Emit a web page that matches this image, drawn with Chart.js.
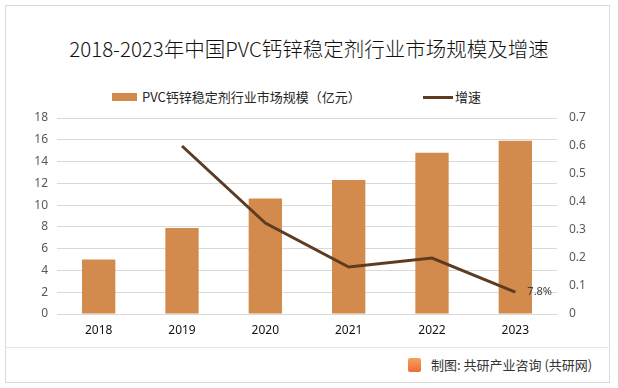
<!DOCTYPE html>
<html>
<head>
<meta charset="utf-8">
<script src="https://cdn.jsdelivr.net/npm/chart.js@4.4.0/dist/chart.umd.min.js"></script>
<style>
  html, body { margin: 0; padding: 0; background: #fff; }
  body { width: 618px; height: 388px; position: relative; overflow: hidden; font-family: "Noto Sans CJK SC", "Noto Sans", sans-serif; }
  #frame { position: absolute; left: 5px; top: 5px; width: 605px; height: 378px; border: 1px solid #d9d9d9; box-sizing: border-box; }
  #footLine { position: absolute; left: 5px; top: 347px; width: 605px; height: 1px; background: #e3e3e3; }
  #title { position: absolute; left: 0; top: 34px; width: 618px; text-align: center; font-size: 20.5px; font-weight: 300; color: #111; line-height: 28px; }
  #legend { position: absolute; top: 88px; left: 112px; font-size: 13px; color: #262626; line-height: 18px; }
  .item { position: absolute; white-space: nowrap; }
  .box { display: inline-block; width: 25px; height: 8px; background: #d38b4d; vertical-align: middle; margin-right: 5px; position: relative; top: -1px; }
  .ln { display: inline-block; width: 30px; height: 3px; background: #5e3c22; vertical-align: middle; margin-right: 2px; position: relative; top: -1px; }
  #source { position: absolute; left: 408px; top: 356px; font-size: 13px; color: #333; white-space: nowrap; line-height: 18px; }
  .logo { display: inline-block; width: 13px; height: 14px; background: linear-gradient(#f6a25a, #ee6a3a); border-radius: 2px; vertical-align: middle; margin-right: 10px; position: relative; top: -1px; }
  canvas { position: absolute; left: 0; top: 0; }
</style>
</head>
<body>
<div id="frame"></div>
<div id="footLine"></div>
<div id="title">2018-2023年中国PVC钙锌稳定剂行业市场规模及增速</div>
<div id="legend">
  <span class="item" style="left:0"><span class="box"></span>PVC钙锌稳定剂行业市场规模（亿元）</span>
  <span class="item" style="left:311px"><span class="ln"></span>增速</span>
</div>
<div id="source"><span class="logo"></span>制图: 共研产业咨询 (共研网)</div>
<canvas id="chart" width="618" height="388"></canvas>
<script>
const years = ['2018', '2019', '2020', '2021', '2022', '2023'];
const marketSize = [5.0, 7.9, 10.6, 12.3, 14.8, 15.9];
const growth = [null, 0.60, 0.325, 0.168, 0.20, 0.078];
const lastLabel = '7.8%';

const barColor = '#d38b4d';
const lineColor = '#5e3c22';
const gridColor = '#d9d9d9';

// label next to the last point of the growth line
const endLabel = {
  id: 'endLabel',
  afterDatasetsDraw(chart) {
    const meta = chart.getDatasetMeta(0);
    const pt = meta.data[meta.data.length - 1];
    const ctx = chart.ctx;
    ctx.save();
    ctx.font = '11px "Noto Sans", sans-serif';
    ctx.fillStyle = '#404040';
    ctx.textAlign = 'left';
    ctx.textBaseline = 'middle';
    ctx.fillText(lastLabel, pt.x + 12, pt.y);
    ctx.restore();
  }
};

new Chart(document.getElementById('chart'), {
  data: {
    labels: years,
    datasets: [
      {
        type: 'line',
        label: '增速',
        data: growth,
        yAxisID: 'y1',
        borderColor: lineColor,
        borderWidth: 3,
        pointRadius: 0,
        tension: 0,
        order: 0
      },
      {
        type: 'bar',
        label: 'PVC钙锌稳定剂行业市场规模（亿元）',
        data: marketSize,
        yAxisID: 'y',
        backgroundColor: barColor,
        categoryPercentage: 0.4,
        barPercentage: 1.0,
        order: 1
      }
    ]
  },
  options: {
    responsive: false,
    animation: false,
    layout: { padding: { top: 118, left: 0, right: 0, bottom: 0 } },
    plugins: { legend: { display: false }, tooltip: { enabled: false } },
    scales: {
      x: {
        grid: { display: false, drawTicks: false },
        border: { color: gridColor },
        ticks: { color: '#111', font: { size: 12, family: '"Noto Sans", sans-serif' }, padding: 9 },
        afterFit(s) { s.height = 74; }
      },
      y: {
        position: 'left',
        min: 0, max: 18,
        ticks: { stepSize: 2, color: '#595959', font: { size: 12, family: '"Noto Sans", sans-serif' }, padding: 9 },
        grid: { color: gridColor, drawTicks: false },
        border: { display: false },
        afterFit(s) { s.width = 57; }
      },
      y1: {
        position: 'right',
        min: 0, max: 0.7,
        ticks: { stepSize: 0.1, color: '#595959', font: { size: 12, family: '"Noto Sans", sans-serif' }, padding: 12,
          callback: v => Math.round(v * 10) / 10 },
        grid: { display: false, drawTicks: false },
        border: { display: false },
        afterFit(s) { s.width = 61; }
      }
    }
  },
  plugins: [endLabel]
});
</script>
</body>
</html>
